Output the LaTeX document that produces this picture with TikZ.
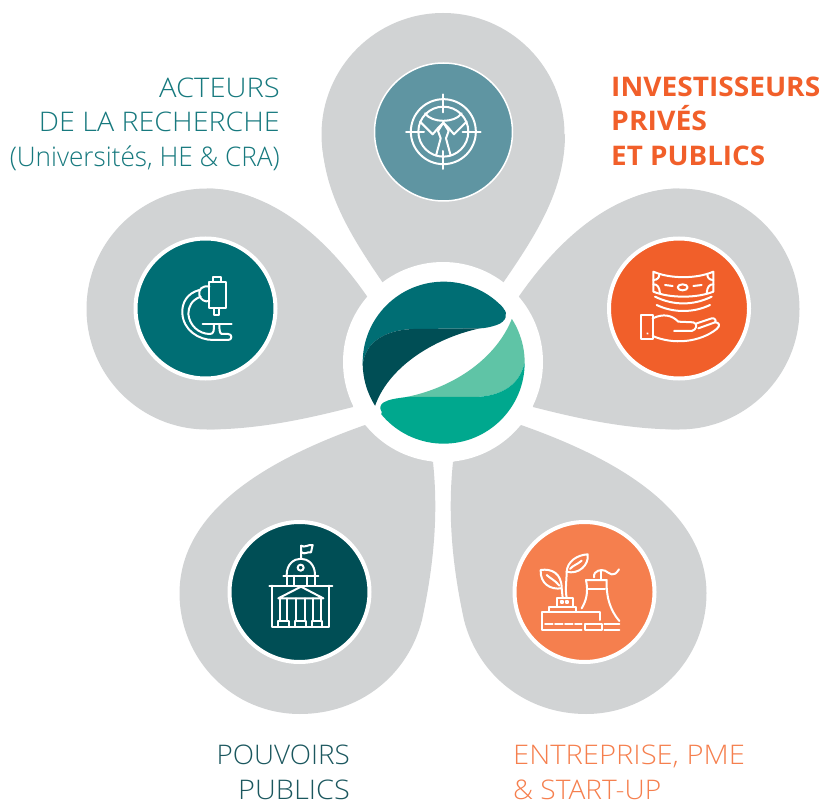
\documentclass[tikz,border=0pt]{standalone}
\usepackage{fontspec}
\setmainfont{Open Sans Light}[BoldFont=Open Sans Bold]
\definecolor{petal}{HTML}{D1D3D4}
\definecolor{cTop}{HTML}{5F95A2}
\definecolor{cOrange}{HTML}{F15F2A}
\definecolor{cTeal}{HTML}{006E74}
\definecolor{cDark}{HTML}{004E55}
\definecolor{cSalmon}{HTML}{F57F4E}
\definecolor{cGreen}{HTML}{00A88E}
\definecolor{cMint}{HTML}{5FC4A6}
\definecolor{tTeal}{HTML}{17797E}
\definecolor{tDark}{HTML}{1B575E}
\newcommand{\sx}[2]{\scalebox{#1}[1]{#2}}
\tikzset{
  hub/.style={circle,draw=white,line width=4pt,minimum size=140pt,inner sep=0pt},
  label/.style={inner sep=0pt,font=\fontsize{27}{34.5}\selectfont},
  icon/.style={draw=white,line width=2pt,line cap=round,line join=round,fill=none},
  zoomed/.style={x=.33333pt,y=-.33333pt}
}
\begin{document}
\begin{tikzpicture}[x=1pt,y=-1pt]
\useasboundingbox (0,0) rectangle (822,802);
% petals
\fill[petal] (443,134.5) circle[radius=121.5pt];
\fill[petal] (383,283) .. controls (350,235) and (322,190) .. (322,134.5) -- (565,134.5) .. controls (565,190) and (536,235) .. (503,283) -- cycle;
\fill[petal] (207,309) circle[radius=120.5pt];
\fill[petal] (367.5,297) .. controls (335,250) and (280,190) .. (207,188.5) -- (207,429.5) .. controls (260,429.5) and (310,418) .. (353,407) -- cycle;
\fill[petal] (679,309) circle[radius=120.5pt];
\fill[petal] (518.5,297) .. controls (551,250) and (606,190) .. (679,188.5) -- (679,429.5) .. controls (626,429.5) and (576,418) .. (533,407) -- cycle;
\fill[petal] (365,425) .. controls (280,455) and (180,505) .. (179.5,593) .. controls (179.5,660) and (233,714) .. (300,714) .. controls (360,714) and (408,675) .. (422,620) .. controls (435,560) and (438,510) .. (433,462) -- cycle;
\fill[petal] (521,425) .. controls (606,455) and (706,505) .. (706.5,593) .. controls (706.5,660) and (653,714) .. (586,714) .. controls (526,714) and (478,675) .. (464,620) .. controls (451,560) and (448,510) .. (453,462) -- cycle;
% hub
\fill[white] (443,362) circle[radius=100pt];
\begin{scope}[shift={(340,250)},zoomed]
\clip (311,338) circle[radius=81pt];
\fill[cTeal] (490,175) .. controls (505,190) and (500,215) .. (470,225) .. controls (450,232) and (430,235) .. (420,235) -- (220,237) .. controls (130,240) and (75,280) .. (68,345) -- (0,345) -- (0,0) -- (600,0) -- cycle;
\fill[cDark] (420,235) .. controls (300,260) and (150,340) .. (105,468) -- (0,500) -- (0,345) -- (68,345) .. controls (75,280) and (130,240) .. (220,237) -- cycle;
\fill[cMint] (515,208) .. controls (470,320) and (350,410) .. (200,441) -- (400,441) .. controls (490,440) and (540,400) .. (553,340) -- (700,340) -- (600,100) -- cycle;
\fill[cGreen] (553,340) .. controls (540,400) and (490,440) .. (400,441) -- (200,441) .. controls (170,445) and (145,448) .. (130,458) .. controls (120,465) and (118,475) .. (125,485) -- (100,700) -- (700,700) -- (700,340) -- cycle;
\end{scope}
% circles
\node[hub,line width=1.5pt,fill=cTop,minimum size=138pt] (top) at (443.5,132) {};
\node[hub,fill=cOrange] (right) at (679,308.5) {};
\node[hub,fill=cTeal] (left) at (205.5,308.5) {};
\node[hub,fill=cDark] (bl) at (299.5,592) {};
\node[hub,fill=cSalmon] (br) at (584.5,592) {};
% target icon
\begin{scope}[shift={(370,85)},zoomed]
\draw[icon] (220,140) circle[radius=32.5pt];
\draw[icon] (220,140) circle[radius=25pt];
\draw[icon] (108,140)--(162,140) (278,140)--(332,140) (220,28)--(220,82) (220,198)--(220,252);
\draw[icon] (165,85) .. controls (185,115) and (255,115) .. (275,85);
\draw[icon] (150,110) -- (188,148) -- (205,128) -- (220,113) -- (235,128) -- (252,148) -- (290,110);
\draw[icon] (198,212) -- (212,160) -- (204,138) -- (220,113) -- (236,138) -- (228,160) -- (242,212);
\end{scope}
% money icon
\begin{scope}[shift={(600,235)},zoomed]
\draw[icon] (160,110) .. controls (210,132) and (290,132) .. (340,110) -- (340,170) .. controls (290,190) and (210,190) .. (160,170) -- cycle;
\draw[icon] (248,157) ellipse[x radius=5pt,y radius=3pt];
\draw[icon] (195,150)--(218,153) (280,153)--(305,150);
\draw[icon] (160,135) .. controls (172,135) and (178,128) .. (178,118);
\draw[icon] (340,135) .. controls (328,135) and (322,128) .. (322,118);
\draw[icon] (160,148) .. controls (172,148) and (178,155) .. (180,175);
\draw[icon] (340,148) .. controls (328,148) and (322,155) .. (320,175);
\draw[icon] (165,185) .. controls (220,212) and (280,212) .. (335,185);
\draw[icon] (170,210) .. controls (220,234) and (280,234) .. (330,210);
\draw[icon] (124,240) rectangle (158,312);
\draw[icon] (142,295) -- (143,296);
\draw[icon] (158,250) .. controls (190,235) and (215,240) .. (235,260) -- (280,262) .. controls (295,265) and (290,285) .. (275,288) -- (222,288);
\draw[icon] (290,265) -- (335,250) .. controls (345,248) and (350,258) .. (345,262);
\draw[icon] (295,280) -- (345,262) .. controls (358,262) and (362,272) .. (350,282) .. controls (300,322) and (220,330) .. (158,303);
\end{scope}
% microscope icon
\begin{scope}[shift={(130,235)},zoomed]
\draw[icon] (238,140) rectangle (287,220);
\draw[icon] (250,125) rectangle (272,140);
\draw[icon] (252,220) rectangle (268,240);
\draw[icon] (238,155) .. controls (215,150) and (205,165) .. (208,180) .. controls (212,195) and (225,202) .. (238,198);
\draw[icon] (208,165) .. controls (170,175) and (155,205) .. (157,235) .. controls (160,285) and (205,315) .. (250,315) -- (295,315) .. controls (307,315) and (307,297) .. (295,297) -- (275,297) .. controls (268,295) and (268,280) .. (268,268);
\draw[icon] (218,268) -- (305,268);
\draw[icon] (212,185) .. controls (185,195) and (175,215) .. (175,237) .. controls (178,270) and (205,297) .. (240,297) .. controls (252,297) and (252,285) .. (252,268);
\end{scope}
% building icon
\begin{scope}[shift={(225,520)},zoomed]
\draw[icon] (228,115) -- (228,77) .. controls (240,85) and (250,72) .. (263,75) -- (258,97) .. controls (248,94) and (240,105) .. (230,97);
\draw[icon] (185,165) .. controls (185,100) and (270,100) .. (270,165);
\draw[icon] (227,143) circle[radius=3pt];
\draw[icon] (175,167) -- (280,167);
\draw[icon] (185,167)--(185,197) (208,167)--(208,197) (245,167)--(245,197) (270,167)--(270,197);
\draw[icon] (133,197) -- (322,197);
\draw[icon] (140,197) -- (140,320) -- (312,320) -- (312,197);
\draw[icon] (160,235) -- (228,200) -- (295,235) -- cycle;
\draw[icon] (165,235)--(165,303) (187,235)--(187,303) (213,235)--(213,303) (240,235)--(240,303) (265,235)--(265,303) (288,235)--(288,303);
\draw[icon] (160,303) rectangle (192,320);
\draw[icon] (210,303) rectangle (242,320);
\draw[icon] (260,303) rectangle (292,320);
\end{scope}
% factory icon
\begin{scope}[shift={(510,520)},zoomed]
\draw[icon] (215,330) -- (95,330) -- (95,275) -- (270,275) -- (270,300);
\draw[icon] (105,313)--(128,313) (135,313)--(158,313) (165,313)--(188,313) (195,313)--(215,313);
\draw[icon] (225,313) rectangle (275,330);
\draw[icon] (283,313)--(328,313) (283,330)--(328,330);
\draw[icon] (117,275) -- (117,260) -- (197,260) -- (197,275);
\draw[icon] (140,260) -- (140,233) -- (190,233) -- (190,260);
\draw[icon] (152,243) rectangle (160,250) (167,243) rectangle (175,250);
\draw[icon] (92,150) .. controls (125,145) and (155,160) .. (155,205) .. controls (120,210) and (90,190) .. (92,150) -- cycle;
\draw[icon] (110,165) .. controls (120,175) and (135,180) .. (148,197);
\draw[icon] (170,155) .. controls (172,125) and (200,105) .. (233,103) .. controls (238,135) and (205,165) .. (170,155) -- cycle;
\draw[icon] (180,147) .. controls (190,135) and (200,135) .. (215,122);
\draw[icon] (170,233) .. controls (165,210) and (170,180) .. (170,155);
\draw[icon] (155,205) -- (158,233);
\draw[icon] (228,180) -- (290,180) .. controls (288,230) and (300,270) .. (328,303);
\draw[icon] (228,180) .. controls (235,215) and (230,240) .. (215,265);
\draw[icon] (232,208) -- (285,208);
\draw[icon] (252,172) .. controls (250,150) and (275,148) .. (285,152) .. controls (300,160) and (310,175) .. (327,148);
\draw[icon] (272,150) -- (272,178);
\end{scope}
% labels
\node[label,anchor=north east,align=right,text=tTeal] (acteurs) at (280,77.5) {\sx{1.08}{ACTEURS}\\\sx{1.06}{DE LA RECHERCHE}\\\sx{.97}{(Universités, HE \& CRA)}};
\node[label,anchor=north west,align=left,text=cOrange,font=\fontsize{27}{34.5}\selectfont\bfseries] (invest) at (611,76.5) {\sx{1.04}{INVESTISSEURS}\\\sx{1.05}{PRIVÉS}\\\sx{1.03}{ET PUBLICS}};
\node[label,anchor=north east,align=right,text=tDark] (pouvoirs) at (350,745) {\sx{1.03}{POUVOIRS}\\\sx{1.07}{PUBLICS}};
\node[label,anchor=north west,align=left,text=cSalmon] (entreprise) at (513,745) {\sx{1.08}{ENTREPRISE, PME}\\\sx{1.04}{\& START-UP}};
\end{tikzpicture}
\end{document}
